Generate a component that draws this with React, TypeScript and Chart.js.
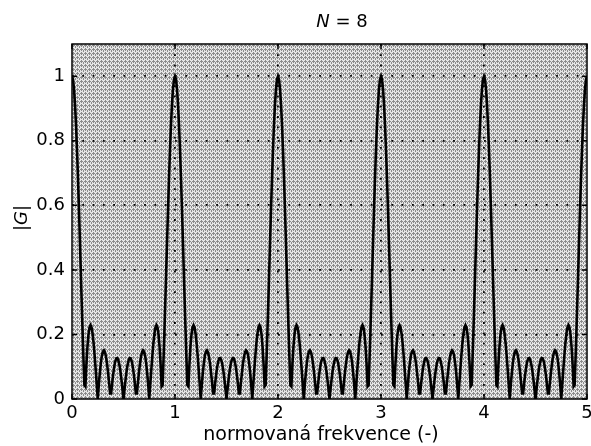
import React, { useEffect, useRef } from "react";
import { Chart, registerables } from "chart.js";

Chart.register(...registerables);

// ---- texts ----
const TITLE_VAR = "N";
const TITLE_REST = " = 8";
const X_LABEL = "normovaná frekvence (-)";
const Y_LABEL_VAR = "G";

// ---- axes ----
const X_TICKS = [0, 1, 2, 3, 4, 5];
const Y_TICKS = [0, 0.2, 0.4, 0.6, 0.8, 1];
const X_MIN = 0;
const X_MAX = 5;
const Y_MIN = 0;
const Y_MAX = 1.1;

// ---- data: |G| sampled every 0.01 of normalised frequency, 0 .. 5 ----
const FREQ_STEP = 0.01;
const magnitude = [
  1.000,0.990,0.959,0.909,0.842,0.760,0.666,0.563,0.455,0.345,0.238,0.136,0.043,0.039,0.108,0.162,0.200,0.222,0.229,0.222,0.202,0.172,0.134,0.091,0.045,0.000,0.043,0.080,0.111,0.134,0.147,0.151,0.145,0.131,0.110,0.082,0.051,0.017,0.017,0.049,0.077,0.100,0.117,0.126,0.127,0.120,0.106,0.086,0.060,0.031,0.000,0.031,0.060,0.086,0.106,0.120,0.127,0.126,0.117,0.100,0.077,0.049,0.017,0.017,0.051,0.082,0.110,0.131,0.145,0.151,0.147,0.134,0.111,0.080,0.043,0.000,0.045,0.091,0.134,0.172,0.202,0.222,0.229,0.222,0.200,0.162,0.108,0.039,0.043,0.136,0.238,0.345,0.455,0.563,0.666,0.760,0.842,0.909,0.959,0.990,
  1.000,0.990,0.959,0.909,0.842,0.760,0.666,0.563,0.455,0.345,0.238,0.136,0.043,0.039,0.108,0.162,0.200,0.222,0.229,0.222,0.202,0.172,0.134,0.091,0.045,0.000,0.043,0.080,0.111,0.134,0.147,0.151,0.145,0.131,0.110,0.082,0.051,0.017,0.017,0.049,0.077,0.100,0.117,0.126,0.127,0.120,0.106,0.086,0.060,0.031,0.000,0.031,0.060,0.086,0.106,0.120,0.127,0.126,0.117,0.100,0.077,0.049,0.017,0.017,0.051,0.082,0.110,0.131,0.145,0.151,0.147,0.134,0.111,0.080,0.043,0.000,0.045,0.091,0.134,0.172,0.202,0.222,0.229,0.222,0.200,0.162,0.108,0.039,0.043,0.136,0.238,0.345,0.455,0.563,0.666,0.760,0.842,0.909,0.959,0.990,
  1.000,0.990,0.959,0.909,0.842,0.760,0.666,0.563,0.455,0.345,0.238,0.136,0.043,0.039,0.108,0.162,0.200,0.222,0.229,0.222,0.202,0.172,0.134,0.091,0.045,0.000,0.043,0.080,0.111,0.134,0.147,0.151,0.145,0.131,0.110,0.082,0.051,0.017,0.017,0.049,0.077,0.100,0.117,0.126,0.127,0.120,0.106,0.086,0.060,0.031,0.000,0.031,0.060,0.086,0.106,0.120,0.127,0.126,0.117,0.100,0.077,0.049,0.017,0.017,0.051,0.082,0.110,0.131,0.145,0.151,0.147,0.134,0.111,0.080,0.043,0.000,0.045,0.091,0.134,0.172,0.202,0.222,0.229,0.222,0.200,0.162,0.108,0.039,0.043,0.136,0.238,0.345,0.455,0.563,0.666,0.760,0.842,0.909,0.959,0.990,
  1.000,0.990,0.959,0.909,0.842,0.760,0.666,0.563,0.455,0.345,0.238,0.136,0.043,0.039,0.108,0.162,0.200,0.222,0.229,0.222,0.202,0.172,0.134,0.091,0.045,0.000,0.043,0.080,0.111,0.134,0.147,0.151,0.145,0.131,0.110,0.082,0.051,0.017,0.017,0.049,0.077,0.100,0.117,0.126,0.127,0.120,0.106,0.086,0.060,0.031,0.000,0.031,0.060,0.086,0.106,0.120,0.127,0.126,0.117,0.100,0.077,0.049,0.017,0.017,0.051,0.082,0.110,0.131,0.145,0.151,0.147,0.134,0.111,0.080,0.043,0.000,0.045,0.091,0.134,0.172,0.202,0.222,0.229,0.222,0.200,0.162,0.108,0.039,0.043,0.136,0.238,0.345,0.455,0.563,0.666,0.760,0.842,0.909,0.959,0.990,
  1.000,0.990,0.959,0.909,0.842,0.760,0.666,0.563,0.455,0.345,0.238,0.136,0.043,0.039,0.108,0.162,0.200,0.222,0.229,0.222,0.202,0.172,0.134,0.091,0.045,0.000,0.043,0.080,0.111,0.134,0.147,0.151,0.145,0.131,0.110,0.082,0.051,0.017,0.017,0.049,0.077,0.100,0.117,0.126,0.127,0.120,0.106,0.086,0.060,0.031,0.000,0.031,0.060,0.086,0.106,0.120,0.127,0.126,0.117,0.100,0.077,0.049,0.017,0.017,0.051,0.082,0.110,0.131,0.145,0.151,0.147,0.134,0.111,0.080,0.043,0.000,0.045,0.091,0.134,0.172,0.202,0.222,0.229,0.222,0.200,0.162,0.108,0.039,0.043,0.136,0.238,0.345,0.455,0.563,0.666,0.760,0.842,0.909,0.959,0.990,
  1.000,
];

const FONT = '"DejaVu Sans", "Liberation Sans", sans-serif';

function drawMixed(
  ctx: CanvasRenderingContext2D,
  parts: { text: string; italic: boolean }[],
  size: number,
  cx: number,
  cy: number
) {
  const widths = parts.map((p) => {
    ctx.font = `${p.italic ? "italic " : ""}${size}px ${FONT}`;
    return ctx.measureText(p.text).width;
  });
  const total = widths.reduce((a, b) => a + b, 0);
  let x = cx - total / 2;
  ctx.textBaseline = "middle";
  ctx.textAlign = "left";
  parts.forEach((p, i) => {
    ctx.font = `${p.italic ? "italic " : ""}${size}px ${FONT}`;
    ctx.fillText(p.text, x, cy);
    x += widths[i];
  });
}

export default function App() {
  const canvasRef = useRef<HTMLCanvasElement | null>(null);

  useEffect(() => {
    document.body.style.margin = "0";
    const canvas = canvasRef.current;
    if (!canvas) return;

    // halftone-like background tile for the plot area
    const tile = document.createElement("canvas");
    tile.width = 4;
    tile.height = 4;
    const t = tile.getContext("2d")!;
    t.fillStyle = "#e6e6e6";
    t.fillRect(0, 0, 4, 4);
    t.fillStyle = "#8c8c8c";
    [
      [1, 0], [0, 1], [1, 1], [2, 1], [1, 2], [3, 3], [3, 2],
    ].forEach(([px, py]) => t.fillRect(px, py, 1, 1));

    const bgPlugin = {
      id: "bg",
      beforeDraw(chart: any) {
        const { ctx, chartArea: a } = chart;
        const pat = ctx.createPattern(tile, "repeat");
        ctx.save();
        ctx.fillStyle = pat || "#c0c0c0";
        ctx.fillRect(a.left, a.top, a.right - a.left, a.bottom - a.top);
        ctx.restore();
      },
    };

    const framePlugin = {
      id: "frame",
      afterDraw(chart: any) {
        const { ctx, chartArea: a, scales } = chart;
        ctx.save();
        ctx.strokeStyle = "#000";
        ctx.lineWidth = 1.5;
        ctx.setLineDash([]);
        ctx.strokeRect(a.left, a.top, a.right - a.left, a.bottom - a.top);
        const tl = 5;
        ctx.beginPath();
        X_TICKS.forEach((v) => {
          const px = scales.x.getPixelForValue(v);
          ctx.moveTo(px, a.bottom);
          ctx.lineTo(px, a.bottom - tl);
          ctx.moveTo(px, a.top);
          ctx.lineTo(px, a.top + tl);
        });
        Y_TICKS.forEach((v) => {
          const py = scales.y.getPixelForValue(v);
          ctx.moveTo(a.left, py);
          ctx.lineTo(a.left + tl, py);
          ctx.moveTo(a.right, py);
          ctx.lineTo(a.right - tl, py);
        });
        ctx.stroke();

        ctx.fillStyle = "#000";
        drawMixed(
          ctx,
          [
            { text: TITLE_VAR, italic: true },
            { text: TITLE_REST, italic: false },
          ],
          18,
          342,
          22
        );
        drawMixed(ctx, [{ text: X_LABEL, italic: false }], 19, 321, 435);
        ctx.save();
        ctx.translate(22, 218);
        ctx.rotate(-Math.PI / 2);
        drawMixed(
          ctx,
          [
            { text: "|", italic: false },
            { text: Y_LABEL_VAR, italic: true },
            { text: "|", italic: false },
          ],
          18,
          0,
          0
        );
        ctx.restore();
        ctx.restore();
      },
    };

    const points = magnitude.map((y, i) => ({
      x: Math.round(i * FREQ_STEP * 100) / 100,
      y,
    }));

    const chart = new Chart(canvas, {
      type: "line",
      data: {
        datasets: [
          {
            data: points,
            borderColor: "#000",
            borderWidth: 2.6,
            pointRadius: 0,
            tension: 0,
            fill: false,
          },
        ],
      },
      options: {
        responsive: false,
        animation: false,
        devicePixelRatio: 1,
        layout: { padding: { left: 0, right: 4, top: 44, bottom: 0 } },
        plugins: {
          legend: { display: false },
          tooltip: { enabled: false },
          title: { display: false },
        },
        scales: {
          x: {
            type: "linear",
            min: X_MIN,
            max: X_MAX,
            afterBuildTicks: (s: any) => {
              s.ticks = X_TICKS.map((v) => ({ value: v }));
            },
            afterFit: (s: any) => {
              s.height = 47;
              s.paddingLeft = 0;
              s.paddingRight = 0;
            },
            grid: {
              drawTicks: false,
              lineWidth: 1.8,
              color: (c: any) =>
                c.tick && (c.tick.value === X_MIN || c.tick.value === X_MAX)
                  ? "rgba(0,0,0,0)"
                  : "#000",
            },
            border: { display: false, dash: [1.8, 8.5] },
            ticks: {
              color: "#000",
              font: { family: FONT, size: 18 },
              padding: 4,
              maxRotation: 0,
              autoSkip: false,
              callback: (v: any) => String(v),
            },
          },
          y: {
            type: "linear",
            min: Y_MIN,
            max: Y_MAX,
            afterBuildTicks: (s: any) => {
              s.ticks = Y_TICKS.map((v) => ({ value: v }));
            },
            afterFit: (s: any) => {
              s.width = 72;
              s.paddingTop = 0;
              s.paddingBottom = 0;
            },
            grid: {
              drawTicks: false,
              lineWidth: 1.8,
              color: (c: any) =>
                c.tick && c.tick.value === Y_MIN ? "rgba(0,0,0,0)" : "#000",
            },
            border: { display: false, dash: [1.8, 8.5] },
            ticks: {
              color: "#000",
              font: { family: FONT, size: 18 },
              padding: 7,
              autoSkip: false,
              callback: (v: any) => String(v),
            },
          },
        },
      },
      plugins: [bgPlugin, framePlugin],
    } as any);

    return () => chart.destroy();
  }, []);

  return (
    <div style={{ width: 591, height: 446 }}>
      <canvas
        ref={canvasRef}
        width={591}
        height={446}
        style={{ width: 591, height: 446, display: "block" }}
      />
    </div>
  );
}
